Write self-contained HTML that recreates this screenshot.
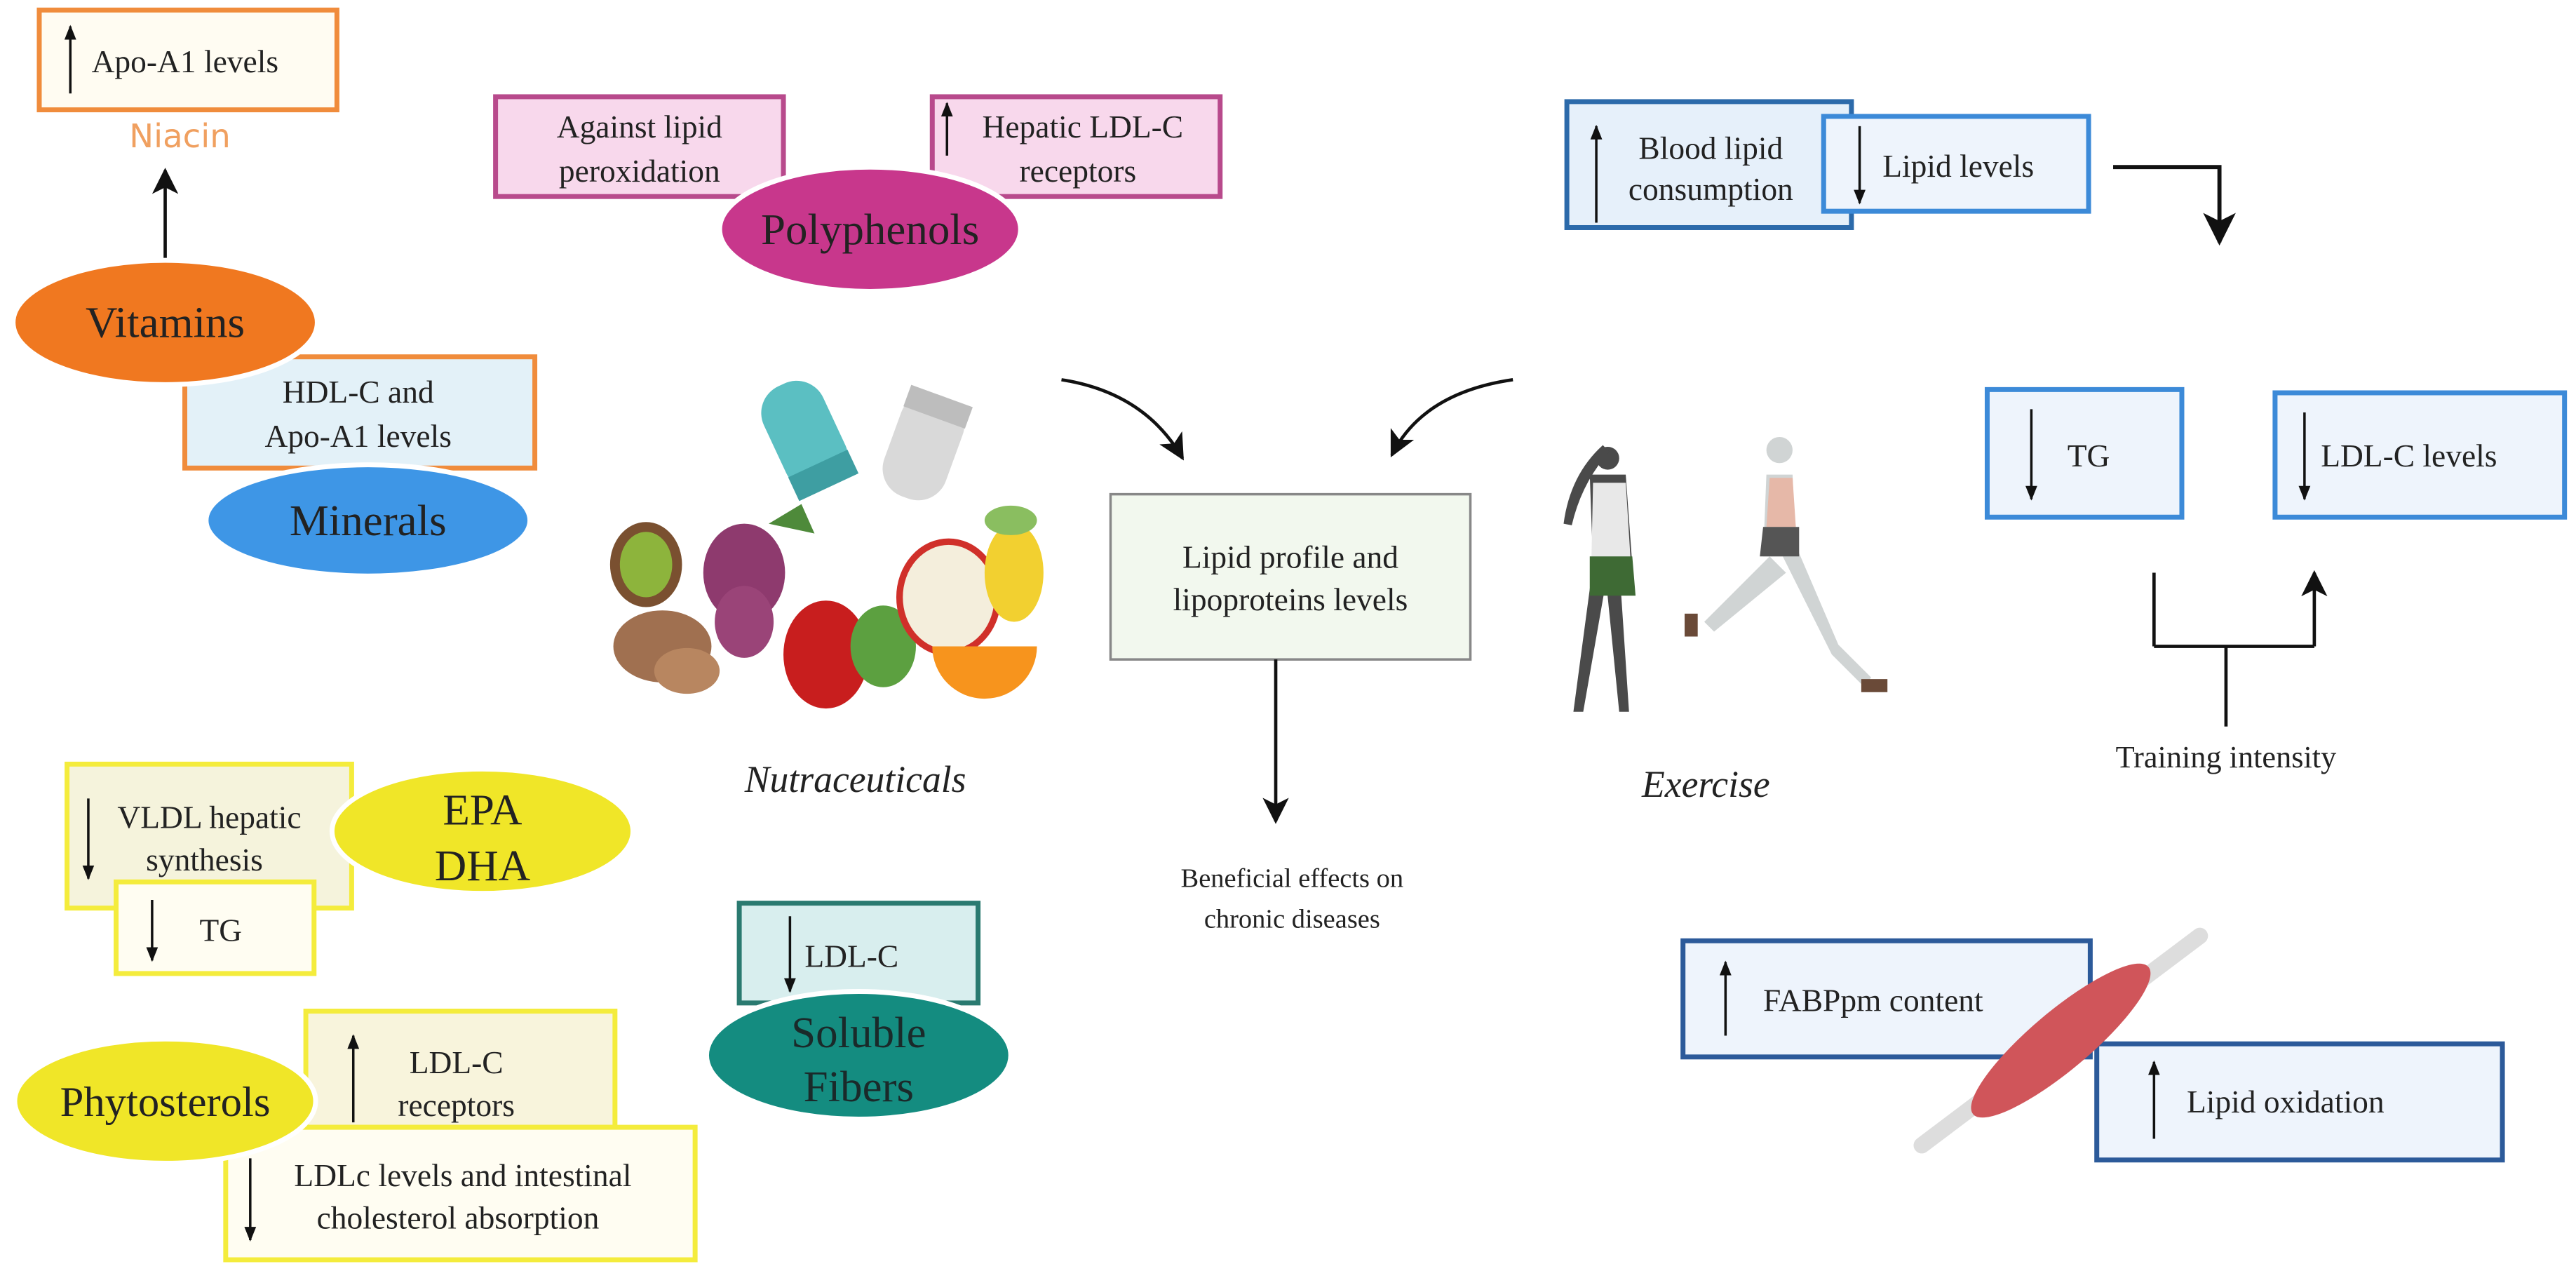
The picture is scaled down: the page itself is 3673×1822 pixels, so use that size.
<!DOCTYPE html>
<html><head><meta charset="utf-8"><style>
html,body{margin:0;padding:0;background:#fff;}
svg{display:block;}
text{font-family:"Liberation Serif",serif;fill:#222;}
</style></head><body>
<svg width="3673" height="1822" viewBox="0 0 1575 781" xmlns="http://www.w3.org/2000/svg">
<defs>
<marker id="ah" viewBox="0 0 10 10" refX="9" refY="5" markerWidth="8" markerHeight="8" orient="auto-start-reverse" markerUnits="strokeWidth"><path d="M0,0 L10,5 L0,10 L2.5,5 z" fill="#111"/></marker>
<marker id="as" viewBox="0 0 10 10" refX="9" refY="5" markerWidth="6" markerHeight="6" orient="auto" markerUnits="strokeWidth"><path d="M0,1 L10,5 L0,9 z" fill="#111"/></marker>
</defs>
<rect width="1575" height="781" fill="#fff"/>

<!-- Niacin / Vitamins / Minerals -->
<rect x="24" y="6" width="182" height="61" fill="#FFFCF2" stroke="#F08C3C" stroke-width="3"/>
<line x1="43" y1="57" x2="43" y2="16" stroke="#111" stroke-width="1.5" marker-end="url(#as)"/>
<text x="56" y="44" font-size="19.5">Apo-A1 levels</text>
<text x="110" y="90" font-size="20" text-anchor="middle" style="font-family:'DejaVu Sans',sans-serif;fill:#F0A060">Niacin</text>
<line x1="101" y1="158" x2="101" y2="104" stroke="#111" stroke-width="2" marker-end="url(#ah)"/>
<rect x="113" y="218" width="214" height="68" fill="#E3F1F8" stroke="#F08C3C" stroke-width="3"/>
<text x="219" y="246" font-size="19.5" text-anchor="middle">HDL-C and</text>
<text x="219" y="273" font-size="19.5" text-anchor="middle">Apo-A1 levels</text>
<ellipse cx="101" cy="197" rx="93" ry="38" fill="#F07820" stroke="#fff" stroke-width="3"/>
<text x="101" y="206" font-size="27" text-anchor="middle">Vitamins</text>
<ellipse cx="225" cy="318" rx="99" ry="34" fill="#3E96E6" stroke="#fff" stroke-width="3"/>
<text x="225" y="327" font-size="27" text-anchor="middle">Minerals</text>

<!-- Polyphenols -->
<rect x="303" y="59" width="176" height="61" fill="#F8D8EC" stroke="#B84A8C" stroke-width="3"/>
<text x="391" y="84" font-size="19.5" text-anchor="middle">Against lipid</text>
<text x="391" y="111" font-size="19.5" text-anchor="middle">peroxidation</text>
<rect x="570" y="59" width="176" height="61" fill="#F8D8EC" stroke="#B84A8C" stroke-width="3"/>
<line x1="579" y1="95" x2="579" y2="63" stroke="#111" stroke-width="1.5" marker-end="url(#as)"/>
<text x="662" y="84" font-size="19.5" text-anchor="middle">Hepatic LDL-C</text>
<text x="659" y="111" font-size="19.5" text-anchor="middle">receptors</text>
<ellipse cx="532" cy="140" rx="92" ry="38" fill="#C8378C" stroke="#fff" stroke-width="3"/>
<text x="532" y="149" font-size="27" text-anchor="middle">Polyphenols</text>

<!-- pills -->
<g transform="rotate(-25 492 266)"><rect x="472" y="232" width="40" height="68" rx="18" fill="#5BBFC2"/><rect x="472" y="285" width="40" height="16" fill="#3E9EA2"/></g>
<g transform="rotate(20 565 272)"><rect x="545" y="240" width="40" height="66" rx="18" fill="#D9D9D9"/><rect x="545" y="240" width="40" height="14" fill="#BDBDBD"/></g>
<!-- fruits -->
<ellipse cx="405" cy="395" rx="30" ry="22" fill="#A07050"/>
<ellipse cx="395" cy="345" rx="22" ry="26" fill="#7A5030"/>
<ellipse cx="395" cy="345" rx="16" ry="20" fill="#8DB43C"/>
<ellipse cx="420" cy="410" rx="20" ry="14" fill="#B88660"/>
<ellipse cx="455" cy="350" rx="25" ry="30" fill="#8E3A6E"/>
<ellipse cx="455" cy="380" rx="18" ry="22" fill="#9A4478"/>
<path d="M470 320 l20 -12 l8 18 z" fill="#4E8A3A"/>
<ellipse cx="505" cy="400" rx="26" ry="33" fill="#C81E1E"/>
<ellipse cx="540" cy="395" rx="20" ry="25" fill="#5CA040"/>
<ellipse cx="580" cy="365" rx="30" ry="34" fill="#F4EEDC" stroke="#D0302A" stroke-width="4"/>
<ellipse cx="620" cy="350" rx="18" ry="30" fill="#F2D030"/>
<ellipse cx="618" cy="318" rx="16" ry="9" fill="#8ABE60"/>
<path d="M570 395 a32 32 0 0 0 64 0 z" fill="#F7941D"/>

<!-- center -->
<path d="M649 232 Q700 240 723 280" fill="none" stroke="#111" stroke-width="2" marker-end="url(#ah)"/>
<path d="M925 232 Q870 240 851 278" fill="none" stroke="#111" stroke-width="2" marker-end="url(#ah)"/>
<rect x="679" y="302" width="220" height="101" fill="#F2F8EE" stroke="#888" stroke-width="1.5"/>
<text x="789" y="347" font-size="19.5" text-anchor="middle">Lipid profile and</text>
<text x="789" y="373" font-size="19.5" text-anchor="middle">lipoproteins levels</text>
<line x1="780" y1="403" x2="780" y2="502" stroke="#111" stroke-width="2" marker-end="url(#ah)"/>
<text x="790" y="542" font-size="16.5" text-anchor="middle">Beneficial effects on</text>
<text x="790" y="567" font-size="16.5" text-anchor="middle">chronic diseases</text>
<text x="523" y="484" font-size="23" font-style="italic" text-anchor="middle">Nutraceuticals</text>
<text x="1043" y="487" font-size="23" font-style="italic" text-anchor="middle">Exercise</text>

<!-- exercise figures -->
<g fill="#4A4A4A">
<circle cx="983" cy="280" r="7"/>
<path d="M980 272 Q960 290 956 320 l5 1 Q967 295 984 276z"/>
<path d="M972 290 l22 0 l4 55 l-24 0 z"/>
<path d="M974 345 l-12 90 l6 0 l14 -80 l8 80 l6 0 l-6 -90z"/>
</g>
<path d="M974 295 l20 0 l3 48 l-24 0z" fill="#E8E8E8"/>
<path d="M972 340 l26 0 l2 24 l-28 0z" fill="#3E6A34"/>
<g fill="#D0D4D4">
<circle cx="1088" cy="275" r="8"/>
<path d="M1080 290 l16 0 l2 50 l-20 0z"/>
<path d="M1082 340 l-40 40 l6 6 l44 -36z"/>
<path d="M1090 340 l30 60 l20 20 l4 -6 l-20 -20 l-24 -56z"/>
</g>
<path d="M1082 292 l14 0 l2 30 l-18 0z" fill="#E6B8A8"/>
<path d="M1078 322 l22 0 l0 18 l-24 0z" fill="#555"/>
<rect x="1138" y="415" width="16" height="8" fill="#6A4A38"/>
<rect x="1030" y="375" width="8" height="14" fill="#6A4A38"/>

<!-- right top -->
<rect x="958" y="62" width="174" height="77" fill="#E6F0FA" stroke="#2C6AAA" stroke-width="3"/>
<line x1="976" y1="136" x2="976" y2="77" stroke="#111" stroke-width="1.5" marker-end="url(#as)"/>
<text x="1046" y="97" font-size="19.5" text-anchor="middle">Blood lipid</text>
<text x="1046" y="122" font-size="19.5" text-anchor="middle">consumption</text>
<rect x="1115" y="71" width="162" height="58" fill="#EEF4FC" stroke="#3C8AD8" stroke-width="3"/>
<line x1="1137" y1="77" x2="1137" y2="124" stroke="#111" stroke-width="1.5" marker-end="url(#as)"/>
<text x="1151" y="108" font-size="19.5">Lipid levels</text>
<path d="M1292 102 L1357 102 L1357 148" fill="none" stroke="#111" stroke-width="2.5" marker-end="url(#ah)"/>

<rect x="1215" y="238" width="119" height="78" fill="#EEF4FC" stroke="#3C8AD8" stroke-width="3"/>
<line x1="1242" y1="250" x2="1242" y2="305" stroke="#111" stroke-width="1.5" marker-end="url(#as)"/>
<text x="1264" y="285" font-size="19.5">TG</text>
<rect x="1391" y="240" width="177" height="76" fill="#EEF4FC" stroke="#3C8AD8" stroke-width="3"/>
<line x1="1409" y1="252" x2="1409" y2="305" stroke="#111" stroke-width="1.5" marker-end="url(#as)"/>
<text x="1419" y="285" font-size="19.5">LDL-C levels</text>
<path d="M1317 395 L1317 350 M1415 395 L1415 350" fill="none" stroke="#111" stroke-width="2" marker-end="url(#ah)"/>
<path d="M1317 395 L1415 395 M1361 395 L1361 444" fill="none" stroke="#111" stroke-width="2"/>
<text x="1361" y="469" font-size="19" text-anchor="middle">Training intensity</text>

<!-- muscle -->
<rect x="1029" y="575" width="249" height="71" fill="#EEF4FC" stroke="#2C5A9A" stroke-width="3"/>
<line x1="1055" y1="633" x2="1055" y2="588" stroke="#111" stroke-width="1.5" marker-end="url(#as)"/>
<text x="1078" y="618" font-size="19.5">FABPpm content</text>
<rect x="1282" y="638" width="248" height="71" fill="#EEF4FC" stroke="#2C5A9A" stroke-width="3"/>
<line x1="1317" y1="696" x2="1317" y2="649" stroke="#111" stroke-width="1.5" marker-end="url(#as)"/>
<text x="1337" y="680" font-size="19.5">Lipid oxidation</text>
<line x1="1175" y1="700" x2="1345" y2="572" stroke="#DDD" stroke-width="10" stroke-linecap="round"/>
<ellipse cx="1260" cy="636" rx="70" ry="18" transform="rotate(-40 1260 636)" fill="#D0555A"/>

<!-- EPA/DHA -->
<rect x="41" y="467" width="174" height="88" fill="#F5F3DC" stroke="#F4EC3C" stroke-width="3"/>
<line x1="54" y1="488" x2="54" y2="537" stroke="#111" stroke-width="1.5" marker-end="url(#as)"/>
<text x="128" y="506" font-size="19.5" text-anchor="middle">VLDL hepatic</text>
<text x="125" y="532" font-size="19.5" text-anchor="middle">synthesis</text>
<rect x="71" y="539" width="121" height="56" fill="#FFFDF2" stroke="#F4EC3C" stroke-width="3"/>
<line x1="93" y1="550" x2="93" y2="587" stroke="#111" stroke-width="1.5" marker-end="url(#as)"/>
<text x="122" y="575" font-size="19.5">TG</text>
<ellipse cx="295" cy="508" rx="92" ry="38" fill="#F0E628" stroke="#fff" stroke-width="3"/>
<text x="295" y="504" font-size="27" text-anchor="middle">EPA</text>
<text x="295" y="538" font-size="27" text-anchor="middle">DHA</text>

<!-- Soluble fibers -->
<rect x="452" y="552" width="146" height="61" fill="#D8EEEE" stroke="#2A7A70" stroke-width="3"/>
<line x1="483" y1="560" x2="483" y2="606" stroke="#111" stroke-width="1.5" marker-end="url(#as)"/>
<text x="492" y="591" font-size="19.5">LDL-C</text>
<ellipse cx="525" cy="645" rx="93" ry="39" fill="#148C80" stroke="#fff" stroke-width="3"/>
<text x="525" y="640" font-size="27" text-anchor="middle" style="fill:#1a2a2a">Soluble</text>
<text x="525" y="673" font-size="27" text-anchor="middle" style="fill:#1a2a2a">Fibers</text>

<!-- Phytosterols -->
<rect x="187" y="618" width="189" height="71" fill="#F8F4DC" stroke="#F4EC3C" stroke-width="3"/>
<line x1="216" y1="686" x2="216" y2="633" stroke="#111" stroke-width="1.5" marker-end="url(#as)"/>
<text x="279" y="656" font-size="19.5" text-anchor="middle">LDL-C</text>
<text x="279" y="682" font-size="19.5" text-anchor="middle">receptors</text>
<rect x="138" y="689" width="287" height="81" fill="#FFFDF2" stroke="#F4EC3C" stroke-width="3"/>
<line x1="153" y1="708" x2="153" y2="758" stroke="#111" stroke-width="1.5" marker-end="url(#as)"/>
<text x="283" y="725" font-size="19.5" text-anchor="middle">LDLc levels and intestinal</text>
<text x="280" y="751" font-size="19.5" text-anchor="middle">cholesterol absorption</text>
<ellipse cx="101" cy="673" rx="92" ry="38" fill="#F0E628" stroke="#fff" stroke-width="3"/>
<text x="101" y="682" font-size="26" text-anchor="middle">Phytosterols</text>
</svg>
</body></html>
